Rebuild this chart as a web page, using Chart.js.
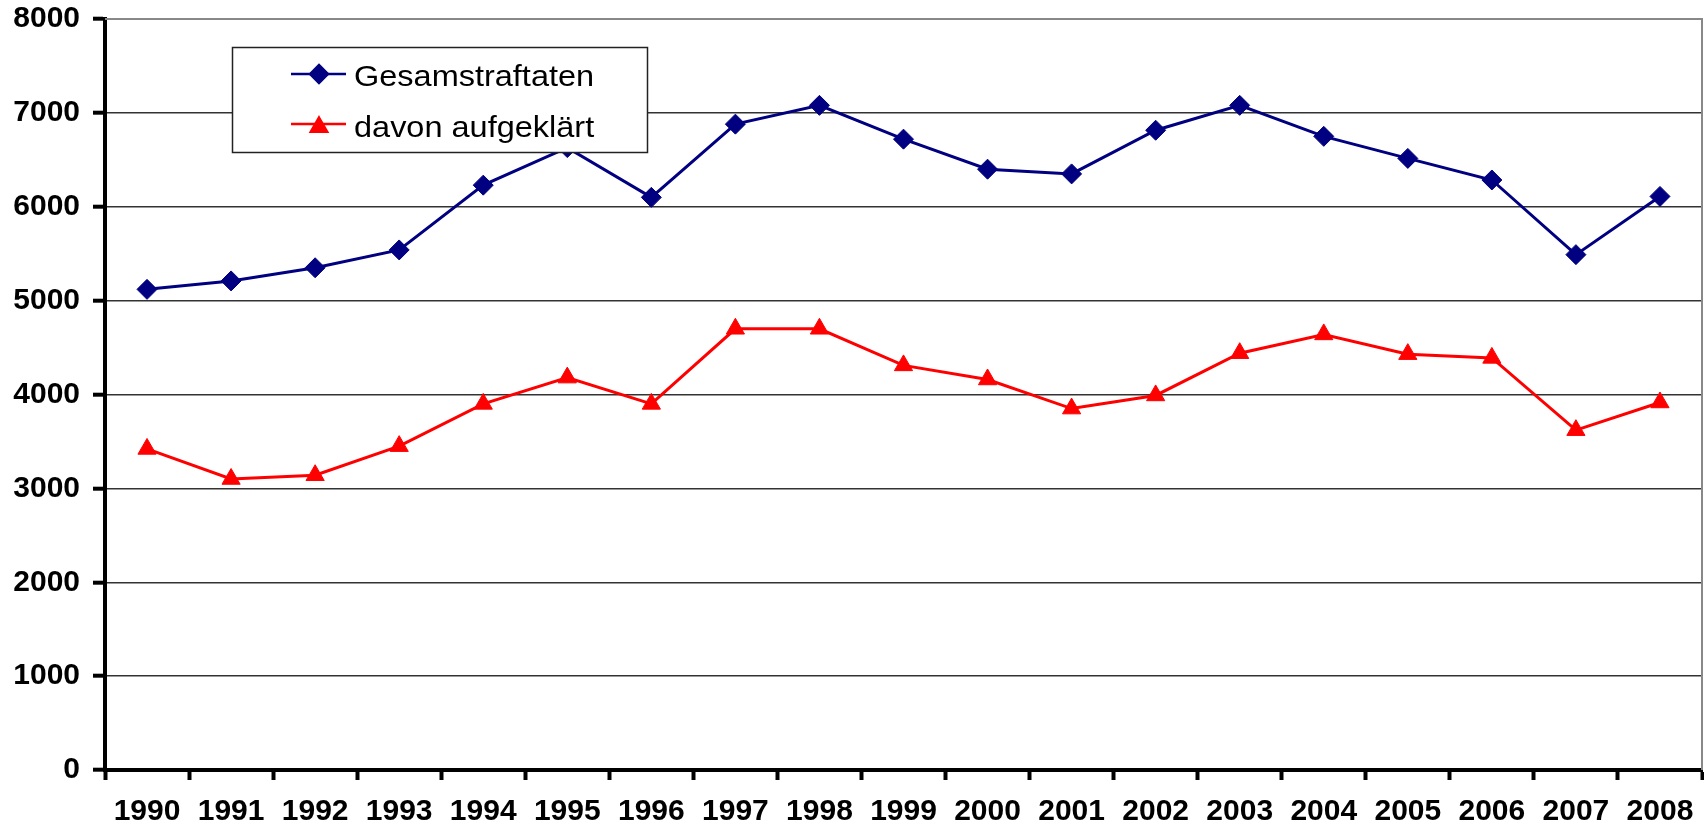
<!DOCTYPE html>
<html>
<head>
<meta charset="utf-8">
<script src="https://cdn.jsdelivr.net/npm/chart.js@4/dist/chart.umd.min.js"></script>
<style>
  body { margin: 0; background: #fff; }
  canvas { display: block; }
</style>
</head>
<body>
<canvas id="crimeChart" width="1704" height="827"></canvas>
<script>
const years = ['1990', '1991', '1992', '1993', '1994', '1995', '1996', '1997', '1998', '1999',
    '2000', '2001', '2002', '2003', '2004', '2005', '2006', '2007', '2008'];
const gesamtLabel = 'Gesamstraftaten';
const gesamt = [5120, 5210, 5350, 5540, 6230, 6630, 6100, 6880, 7080, 6720,
    6400, 6350, 6815, 7080, 6750, 6515, 6285, 5490, 6110];
const aufgeklaertLabel = 'davon aufgeklärt';
const aufgeklaert = [3420, 3100, 3140, 3450, 3900, 4180, 3900, 4700, 4700, 4310,
    4160, 3850, 3990, 4440, 4640, 4430, 4390, 3620, 3915];
const yMin = 0;
const yMax = 8000;
const yStep = 1000;

const navy = '#000080';
const red = '#ff0000';
const fontFamily = '"Liberation Sans", Arial, sans-serif';

// legend box + right/top frame drawn on top of the lines
const legendBox = {
    id: 'legendBox',
    afterDraw(chart) {
        const ctx = chart.ctx;
        const area = chart.chartArea;
        ctx.save();
        ctx.strokeStyle = '#888';
        ctx.lineWidth = 2;
        ctx.beginPath();
        ctx.moveTo(area.left, area.top);
        ctx.lineTo(area.right, area.top);
        ctx.lineTo(area.right, area.bottom);
        ctx.stroke();

        ctx.fillStyle = '#fff';
        ctx.fillRect(232, 47, 415, 105);
        ctx.strokeStyle = '#222';
        ctx.lineWidth = 1.5;
        ctx.strokeRect(232.5, 47.5, 415, 105);

        const items = [
            { text: gesamtLabel, color: navy, style: 'rectRot', r: 9, y: 74, my: 74, base: 86 },
            { text: aufgeklaertLabel, color: red, style: 'triangle', r: 9.5, y: 124, my: 127, base: 137 }
        ];
        items.forEach(function (it) {
            ctx.strokeStyle = it.color;
            ctx.lineWidth = 2.4;
            ctx.beginPath();
            ctx.moveTo(291, it.y);
            ctx.lineTo(346, it.y);
            ctx.stroke();
            ctx.fillStyle = it.color;
            Chart.helpers.drawPoint(ctx, { pointStyle: it.style, radius: it.r, borderWidth: 1 }, 319, it.my);
            ctx.fill();
            ctx.save();
            ctx.translate(354, it.base);
            ctx.scale(1.12, 1);
            ctx.font = '29px ' + fontFamily;
            ctx.textBaseline = 'alphabetic';
            ctx.fillStyle = '#000';
            ctx.fillText(it.text, 0, 0);
            ctx.restore();
        });
        ctx.restore();
    }
};

const ctx = document.getElementById('crimeChart');

new Chart(ctx, {
    type: 'line',
    data: {
        labels: years,
        datasets: [{
            label: gesamtLabel,
            data: gesamt,
            borderColor: navy,
            backgroundColor: navy,
            borderWidth: 3,
            pointStyle: 'rectRot',
            pointRadius: 10,
            pointBorderWidth: 1,
            tension: 0
        }, {
            label: aufgeklaertLabel,
            data: aufgeklaert,
            borderColor: red,
            backgroundColor: red,
            borderWidth: 3,
            pointStyle: 'triangle',
            pointRadius: 10.5,
            pointBorderWidth: 1,
            tension: 0
        }]
    },
    options: {
        responsive: false,
        animation: false,
        layout: {
            autoPadding: false,
            padding: { top: 19, right: 2, left: 0, bottom: 0 }
        },
        plugins: {
            legend: { display: false },
            tooltip: { enabled: false }
        },
        scales: {
            x: {
                offset: true,
                grid: {
                    offset: true,
                    drawOnChartArea: false,
                    tickLength: 10,
                    tickColor: '#000',
                    tickWidth: 4
                },
                border: { color: '#000', width: 4 },
                ticks: {
                    color: '#000',
                    padding: 14,
                    maxRotation: 0,
                    autoSkip: false,
                    font: { family: fontFamily, size: 30, weight: 'bold' }
                },
                afterFit(scale) {
                    scale.height = 57;
                    scale.paddingLeft = 0;
                    scale.paddingRight = 0;
                }
            },
            y: {
                min: yMin,
                max: yMax,
                grid: {
                    color: '#333',
                    lineWidth: 1.4,
                    tickLength: 12,
                    tickColor: '#000',
                    tickWidth: 4
                },
                border: { color: '#000', width: 4 },
                ticks: {
                    stepSize: yStep,
                    color: '#000',
                    padding: 13,
                    callback: function (value) { return String(value); },
                    font: { family: fontFamily, size: 30, weight: 'bold' }
                },
                afterFit(scale) {
                    scale.width = 105;
                    scale.paddingTop = 0;
                    scale.paddingBottom = 0;
                }
            }
        }
    },
    plugins: [legendBox]
});
</script>
</body>
</html>
